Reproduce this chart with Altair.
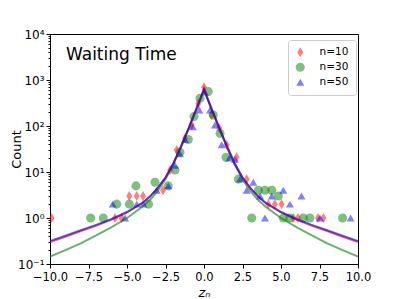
import altair as alt
import pandas as pd

# ---- scatter data (histogram counts) ----
n10_x = [-9.9, -5.78, -5.35, -4.85, -4.37, -3.96, -2.66, -2.2, -1.77, -1.23, -0.8, -0.37, 0.0,
         0.5, 1.0, 1.47, 2.12, 2.77, 4.18, 4.6, 5.04, 5.8, 6.1, 7.4, 7.75]
n10_y = [1, 1, 1, 3, 3, 3, 4, 11, 30, 54, 105, 310, 700,
         173, 89, 39, 21, 7, 2, 2, 2, 1, 1, 1, 1]

n30_x = [-7.36, -6.54, -5.67, -4.85, -4.42, -3.6, -3.18, -2.32, -1.88, -1.56, -1.02, -0.65, -0.26,
         0.28, 0.6, 1.04, 1.43, 2.23, 3.1, 3.53, 3.96, 4.4, 4.83, 5.15, 5.58, 6.45, 6.88, 9.0]
n30_y = [1, 1, 2, 2, 5, 2, 6, 5, 11, 27, 51, 160, 400,
         560, 173, 69, 21, 7, 1, 4, 4, 4, 3, 1, 1, 1, 1, 1]

n50_x = [-5.93, -5.13, -4.37, -3.94, -3.07, -2.32, -1.88, -1.56, -1.23, -0.73, -0.3, 0.05,
         0.39, 0.71, 1.15, 1.64, 2.01, 2.34, 2.77, 3.2, 3.64, 3.96, 4.4, 5.15, 5.58, 6.33, 7.53, 9.52]
n50_y = [2, 1, 2, 2, 4, 5, 14, 25, 51, 96, 223, 550,
         223, 105, 39, 20, 19, 7, 4, 6, 3, 1, 3, 4, 2, 3, 1, 1]

# ---- fitted curves (symmetric, read at |z|) ----
curve_absx = [0, 0.25, 0.5, 0.75, 1, 1.5, 2, 2.5, 3, 3.5, 4, 5, 6, 7, 8, 9, 10]
curve_n10 = [660, 385, 234, 145, 89, 35.5, 15.1, 7.6, 4.5, 2.95, 2.12, 1.32, 0.92, 0.68, 0.52, 0.39, 0.30]
curve_n30 = [600, 370, 228, 141, 87, 34, 14.5, 7.0, 3.9, 2.5, 1.75, 1.0, 0.63, 0.42, 0.28, 0.2, 0.145]
curve_n50 = [631, 380, 234, 145, 89, 35.5, 15.1, 7.6, 4.5, 2.95, 2.14, 1.35, 0.95, 0.71, 0.54, 0.41, 0.316]

series_names = ["n=10", "n=30", "n=50"]
series_colors = ["#ff0000", "#008000", "#0000ff"]
y_tick_labels = ["10\u207b\u00b9", "10\u2070", "10\u00b9", "10\u00b2", "10\u00b3", "10\u2074"]
y_major = [0.1, 1, 10, 100, 1000, 10000]
x_ticks = [-10, -7.5, -5, -2.5, 0, 2.5, 5, 7.5, 10]

pts = pd.concat([
    pd.DataFrame({"z": n10_x, "count": n10_y, "series": "n=10"}),
    pd.DataFrame({"z": n30_x, "count": n30_y, "series": "n=30"}),
    pd.DataFrame({"z": n50_x, "count": n50_y, "series": "n=50"}),
])


def curve_df(vals):
    xs = [-a for a in reversed(curve_absx[1:])] + curve_absx
    ys = list(reversed(vals[1:])) + vals
    return pd.DataFrame({"z": xs, "count": ys})


y_minor = [m * d for d in [0.1, 1, 10, 100, 1000] for m in range(2, 10)]
y_vals = sorted(y_major + y_minor)
lab_arr = "[" + ",".join("'" + s + "'" for s in y_tick_labels) + "]"
is_major = "abs(log(datum.value)/LN10 - round(log(datum.value)/LN10)) < 0.001"

xscale = alt.Scale(domain=[-10, 10], nice=False, zero=False)
yscale = alt.Scale(type="log", domain=[0.1, 10000], nice=False)

xenc = alt.X("z:Q", scale=xscale, title="z\u2099",
             axis=alt.Axis(values=x_ticks, format=".1f",
                           labelExpr="replace(format(datum.value, '.1f'), '-', '\u2212')",
                           labelOverlap=False, labelFlush=False, labelBound=False,
                           labelFontSize=11.5, labelPadding=3,
                           titleFontStyle="italic", titleFontWeight="normal",
                           titleFontSize=13, titlePadding=4))
yenc = alt.Y("count:Q", scale=yscale, title="Count",
             axis=alt.Axis(values=y_vals, labelOverlap=False,
                           labelExpr=f"{is_major} ? {lab_arr}[round(log(datum.value)/LN10)+1] : ''",
                           tickSize={"condition": {"test": is_major, "value": 4}, "value": 2},
                           titleFontWeight="normal", titleFontSize=13,
                           titleX=-30, titleY=115, titleAngle=-90,
                           titleAlign="center", titleBaseline="alphabetic"))

diamond = "M0,-1L0.6,0L0,1L-0.6,0Z"

leg = alt.Legend(orient="none", legendX=238, legendY=6, padding=7, strokeColor="#cccccc",
                 cornerRadius=3, fillColor="white", labelFont="DejaVu Sans", labelFontSize=10.5,
                 labelColor="black", symbolSize=70, symbolOpacity=0.5, rowPadding=4,
                 labelOffset=14, symbolStrokeWidth=0, title=None)

points = alt.Chart(pts).mark_point(filled=True, opacity=0.5, strokeWidth=0, clip=True).encode(
    x=xenc, y=yenc,
    color=alt.Color("series:N", scale=alt.Scale(domain=series_names, range=series_colors), legend=leg),
    shape=alt.Shape("series:N", scale=alt.Scale(domain=series_names, range=[diamond, "circle", "triangle-up"]), legend=leg),
    size=alt.Size("series:N", scale=alt.Scale(domain=series_names, range=[100, 64, 80]), legend=None),
)

lines = []
for vals, col in [(curve_n30, "#008000"), (curve_n10, "#ff0000"), (curve_n50, "#0000ff")]:
    lines.append(alt.Chart(curve_df(vals)).mark_line(color=col, strokeWidth=2, opacity=0.6, clip=True).encode(
        x=xenc, y=yenc))

title_txt = alt.Chart(pd.DataFrame({"t": ["Waiting Time"]})).mark_text(
    align="left", baseline="alphabetic", fontSize=17, font="DejaVu Sans", color="black"
).encode(x=alt.value(16), y=alt.value(26), text="t:N")

chart = alt.layer(points, *lines, title_txt).properties(
    width=308, height=230,
    autosize=alt.AutoSizeParams(type="none"),
    padding={"left": 42, "top": 26, "right": 33, "bottom": 35},
).configure_view(stroke="black", strokeWidth=1).configure_axis(
    grid=False, domainColor="black", tickColor="black", labelColor="black",
    titleColor="black", labelFont="DejaVu Sans", titleFont="DejaVu Sans",
    labelFontSize=12, labelPadding=2, tickSize=4, domain=True,
)

chart.save("out.html", embed_options={"renderer": "svg", "actions": False})
